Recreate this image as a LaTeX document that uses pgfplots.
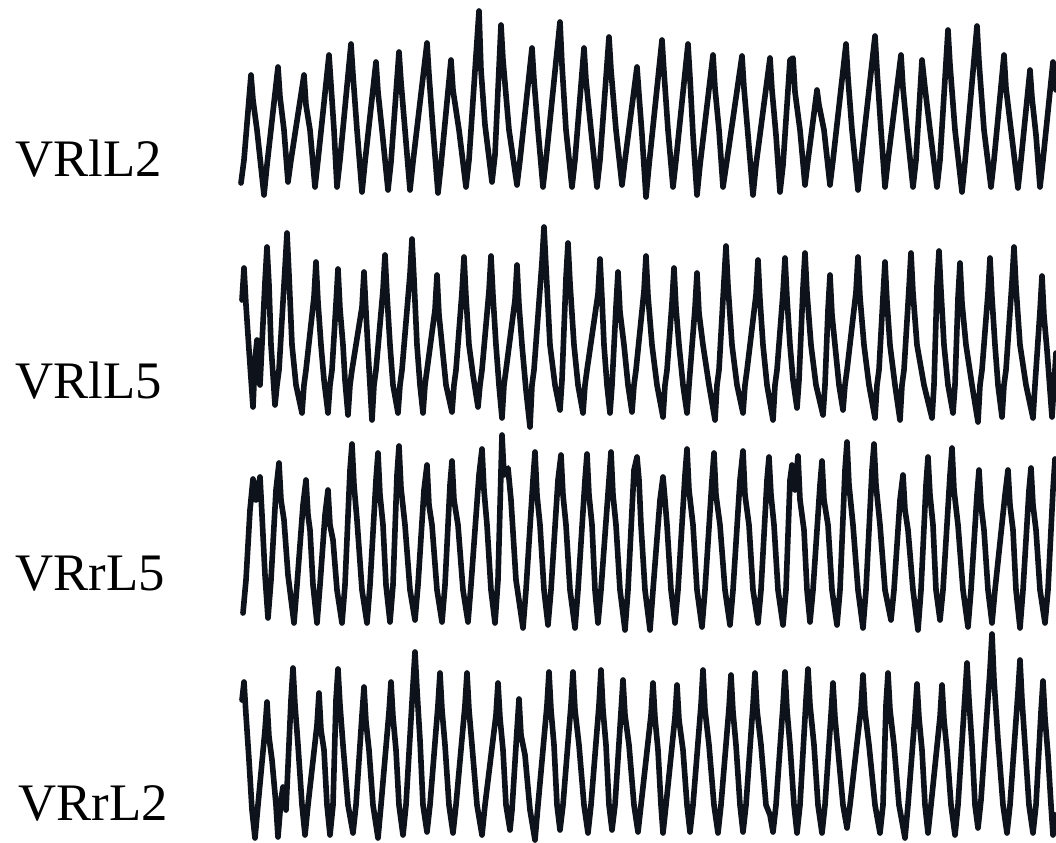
\documentclass[border=0pt]{standalone}
\usepackage{pgfplots}
\pgfplotsset{compat=1.18}
\usepackage{fontspec}
\setmainfont{Liberation Serif}
\definecolor{trace}{RGB}{14,18,26}
\pgfplotsset{tr/.style={color=trace, line width=1.6pt, line join=round, line cap=round, mark=none}}
\begin{document}
\begin{tikzpicture}
\begin{axis}[
  scale only axis, width=10.56cm, height=8.43cm,
  xmin=0, xmax=1056, ymin=0, ymax=843, y dir=reverse,
  hide axis,
]
\path (rel axis cs:0,0) rectangle (rel axis cs:1,1);
% VRlL2
\addplot[tr] coordinates {
(241,183) (244,160) (251,75) (253,100) (257,130) (264,195)
(267,165) (278,67) (280,97) (284,130) (288,182)
(291,160) (304,75) (306,105) (310,130) (315,187)
(318,160) (329,55) (331,85) (334,130) (337,187)
(340,160) (351,44) (353,75) (357,130) (362,192)
(365,162) (376,62) (378,92) (382,130) (388,190)
(391,162) (399,52) (401,82) (405,130) (410,190)
(413,162) (427,43) (429,75) (433,130) (438,193)
(441,165) (451,60) (453,90) (459,130) (466,187)
(469,160) (479,11) (481,70) (485,125) (492,182)
(495,155) (501,25) (503,60) (509,130) (517,185)
(520,160) (532,48) (534,80) (538,130) (543,187)
(546,160) (560,22) (562,65) (566,130) (572,187)
(575,160) (584,48) (586,80) (591,130) (597,187)
(600,160) (609,37) (611,70) (616,130) (622,185)
(625,160) (637,67) (639,95) (642,135) (646,197)
(649,165) (662,40) (664,72) (668,130) (673,187)
(676,160) (688,44) (690,78) (693,135) (697,195)
(700,165) (713,55) (715,88) (719,130) (723,187)
(727,160) (742,56) (744,88) (748,135) (753,195)
(756,165) (770,58) (772,90) (776,135) (780,192)
(783,165) (790,60) (793,58) (795,92) (800,130) (805,185)
(808,160) (817,90) (819,105) (824,130) (830,185)
(833,160) (846,44) (848,78) (852,130) (858,190)
(861,162) (875,36) (877,70) (881,130) (885,187)
(888,160) (901,55) (903,88) (907,130) (913,187)
(916,160) (922,60) (925,88) (930,130) (937,187)
(940,160) (948,30) (950,65) (955,130) (962,192)
(965,162) (977,26) (979,62) (984,130) (991,187)
(994,160) (1004,55) (1006,88) (1011,130) (1018,188)
(1021,160) (1030,70) (1032,98) (1036,135) (1040,187)
(1043,160) (1053,62) (1056,90)
};
% VRlL5
\addplot[tr] coordinates {
(242,300) (244,268) (246,305) (249,350) (253,407)
(255,360) (257,340) (260,385) (265,282) (267,247) (269,285) (271,345) (275,405)
(277,385) (279,370) (285,268) (287,233) (289,275) (292,345) (296,385) (302,413)
(304,385) (306,370) (314,297) (316,262) (318,302) (321,345) (324,380) (328,413)
(330,385) (332,370) (336,304) (338,269) (340,309) (343,345) (345,380) (348,415)
(350,385) (352,370) (362,307) (364,272) (366,312) (368,350) (372,420)
(374,385) (376,370) (383,290) (385,255) (387,295) (390,345) (393,385) (398,413)
(400,385) (402,370) (410,274) (412,239) (414,279) (417,345) (420,385) (423,413)
(425,385) (427,370) (435,310) (437,275) (439,315) (442,345) (446,385) (452,412)
(454,385) (456,370) (462,292) (464,257) (466,297) (469,345) (473,375) (478,407)
(480,385) (482,370) (489,291) (491,256) (493,296) (496,345) (499,385) (502,418)
(504,385) (506,370) (515,300) (517,265) (519,305) (522,345) (526,390) (530,427)
(532,385) (534,370) (542,262) (544,227) (546,267) (550,345) (555,385) (560,410)
(562,380) (566,278) (568,243) (570,283) (574,345) (578,385) (583,413)
(585,385) (587,370) (598,294) (600,259) (602,299) (604,345) (607,385) (610,413)
(612,385) (616,307) (618,272) (620,312) (624,345) (628,385) (632,412)
(634,385) (636,370) (644,291) (646,256) (648,296) (652,345) (657,385) (663,417)
(665,385) (667,370) (672,303) (674,268) (676,308) (679,345) (683,385) (687,413)
(689,385) (695,308) (697,273) (699,313) (703,345) (709,385) (715,420)
(717,385) (719,370) (724,281) (726,246) (728,286) (732,345) (737,385) (743,413)
(745,385) (747,370) (756,295) (758,260) (760,300) (763,345) (767,385) (773,420)
(775,385) (777,370) (783,293) (785,258) (787,298) (790,345) (793,380) (797,408)
(799,380) (803,288) (805,253) (807,293) (811,345) (816,385) (823,415)
(825,385) (828,310) (830,275) (832,315) (835,345) (839,385) (843,410)
(845,385) (847,370) (856,292) (858,257) (860,297) (864,345) (869,385) (875,418)
(877,385) (879,370) (883,297) (885,262) (887,302) (890,345) (895,385) (900,420)
(902,385) (904,370) (909,288) (911,253) (913,293) (917,345) (924,385) (932,418)
(934,385) (937,286) (939,251) (941,291) (944,345) (948,385) (953,413)
(955,385) (958,298) (960,263) (962,303) (966,345) (972,385) (978,422)
(980,385) (982,370) (988,293) (990,258) (992,298) (995,345) (998,385) (1002,417)
(1004,385) (1006,370) (1012,282) (1014,247) (1016,287) (1020,345) (1026,385) (1033,418)
(1035,385) (1040,311) (1042,276) (1044,316) (1047,350) (1052,417)
(1054,385) (1056,353)
};
% VRrL5
\addplot[tr] coordinates {
(243,613) (246,580) (250,510) (253,479) (256,500) (260,477) (262,515) (265,575) (268,618)
(271,580) (276,490) (279,463) (281,500) (284,520) (288,575) (294,623)
(297,585) (303,505) (306,480) (308,515) (310,530) (313,585) (317,623)
(320,585) (325,515) (328,490) (330,525) (333,540) (337,590) (342,623)
(345,585) (350,470) (352,444) (354,485) (357,520) (362,590) (367,623)
(370,585) (376,480) (378,453) (380,495) (383,525) (386,585) (390,622)
(393,585) (397,475) (399,446) (401,488) (405,525) (410,590) (415,620)
(418,585) (424,490) (427,465) (429,505) (432,525) (437,590) (442,622)
(445,585) (450,485) (452,461) (454,500) (458,525) (463,590) (468,622)
(471,585) (479,475) (482,449) (484,490) (487,525) (491,590) (495,623)
(498,580) (502,435) (504,475) (508,468) (511,500) (516,580) (523,628)
(526,590) (533,480) (535,452) (537,495) (540,525) (544,590) (548,625)
(551,590) (558,480) (561,455) (563,495) (566,525) (570,590) (575,628)
(578,590) (585,480) (587,454) (589,495) (592,525) (595,590) (598,623)
(601,590) (609,480) (611,452) (613,495) (616,525) (620,590) (625,630)
(628,590) (634,470) (637,457) (639,480) (641,525) (645,590) (650,630)
(653,590) (660,500) (663,477) (665,500) (667,525) (671,590) (675,623)
(678,590) (685,475) (687,449) (689,490) (693,525) (697,590) (702,627)
(705,590) (712,480) (714,453) (716,495) (720,525) (725,590) (730,625)
(733,590) (740,480) (743,451) (745,495) (749,525) (753,590) (758,623)
(761,590) (767,480) (769,457) (771,495) (774,525) (778,590) (783,625)
(786,590) (790,480) (792,465) (795,490) (798,456) (800,500) (804,530) (807,590) (810,622)
(813,590) (820,485) (822,461) (824,500) (828,525) (832,590) (837,625)
(840,590) (845,470) (847,442) (849,485) (853,525) (858,590) (863,628)
(866,590) (872,470) (874,444) (876,485) (880,525) (885,590) (891,620)
(894,590) (900,500) (903,475) (905,510) (908,530) (913,590) (918,630)
(921,590) (926,485) (928,457) (930,495) (933,525) (936,590) (940,620)
(943,590) (950,475) (952,448) (954,490) (958,525) (963,590) (968,627)
(971,590) (977,495) (979,470) (981,505) (984,530) (988,590) (992,623)
(995,590) (1005,495) (1008,470) (1010,505) (1013,530) (1016,590) (1020,628)
(1023,590) (1029,490) (1031,468) (1033,505) (1036,530) (1040,590) (1045,623)
(1048,590) (1053,490) (1055,459) (1056,480)
};
% VRrL2
\addplot[tr] coordinates {
(242,700) (244,682) (246,715) (249,760) (252,810) (255,838)
(258,805) (265,730) (267,702) (269,737) (272,760) (276,805) (278,837)
(281,800) (283,787) (286,810) (291,700) (293,668) (295,705) (298,745) (302,805) (305,835)
(308,805) (317,725) (319,693) (321,730) (324,750) (327,805) (330,835)
(333,805) (336,700) (338,669) (340,705) (343,745) (348,805) (353,833)
(356,805) (362,715) (364,687) (366,722) (369,750) (373,805) (378,838)
(381,805) (389,712) (391,682) (393,717) (396,750) (399,805) (403,835)
(406,805) (413,685) (415,652) (417,690) (420,740) (423,805) (427,832)
(430,805) (438,705) (440,673) (442,710) (445,745) (449,805) (453,833)
(456,805) (465,705) (467,673) (469,710) (472,745) (477,805) (482,835)
(485,805) (496,715) (498,683) (500,718) (503,750) (506,805) (510,830)
(512,810) (517,730) (519,699) (521,735) (525,755) (530,810) (535,840)
(538,805) (547,705) (549,672) (551,710) (554,745) (557,805) (560,830)
(563,805) (571,705) (573,672) (575,710) (579,745) (584,805) (588,833)
(591,805) (599,705) (601,670) (603,710) (606,745) (609,805) (612,830)
(615,805) (621,712) (623,680) (625,715) (629,745) (634,805) (638,832)
(641,805) (651,715) (653,683) (655,718) (658,750) (661,805) (663,833)
(666,805) (675,717) (677,685) (679,720) (683,750) (687,805) (690,832)
(693,805) (701,705) (703,670) (705,710) (709,745) (714,805) (718,833)
(721,805) (729,708) (731,675) (733,712) (736,745) (740,805) (743,832)
(746,805) (753,705) (755,673) (757,710) (761,745) (766,805) (770,815) (773,832)
(776,805) (783,705) (785,672) (787,710) (790,745) (794,805) (797,833)
(800,805) (806,700) (808,669) (810,705) (814,745) (818,805) (822,833)
(825,805) (831,715) (833,683) (835,718) (838,750) (843,805) (847,828)
(850,805) (861,708) (863,675) (865,712) (869,745) (875,805) (880,833)
(883,805) (886,705) (888,673) (890,710) (894,745) (899,805) (905,838)
(908,805) (915,715) (917,684) (919,718) (922,750) (925,805) (928,833)
(931,805) (940,717) (942,685) (944,720) (947,750) (951,805) (955,835)
(958,805) (965,695) (967,663) (969,700) (972,745) (975,805) (978,828)
(981,800) (990,670) (992,634) (994,680) (998,740) (1003,805) (1007,833)
(1010,805) (1018,692) (1020,660) (1022,700) (1025,745) (1029,805) (1033,833)
(1036,805) (1041,712) (1043,681) (1045,718) (1048,755) (1051,805) (1053,835)
(1055,815) (1056,820)
};
\node[font=\fontsize{15}{18}\selectfont, anchor=base west, inner sep=0pt] at (axis cs:15,177) {VRlL2};
\node[font=\fontsize{15}{18}\selectfont, anchor=base west, inner sep=0pt] at (axis cs:15,399) {VRlL5};
\node[font=\fontsize{15}{18}\selectfont, anchor=base west, inner sep=0pt] at (axis cs:15,590) {VRrL5};
\node[font=\fontsize{15}{18}\selectfont, anchor=base west, inner sep=0pt] at (axis cs:18,820) {VRrL2};
\end{axis}
\end{tikzpicture}
\end{document}
